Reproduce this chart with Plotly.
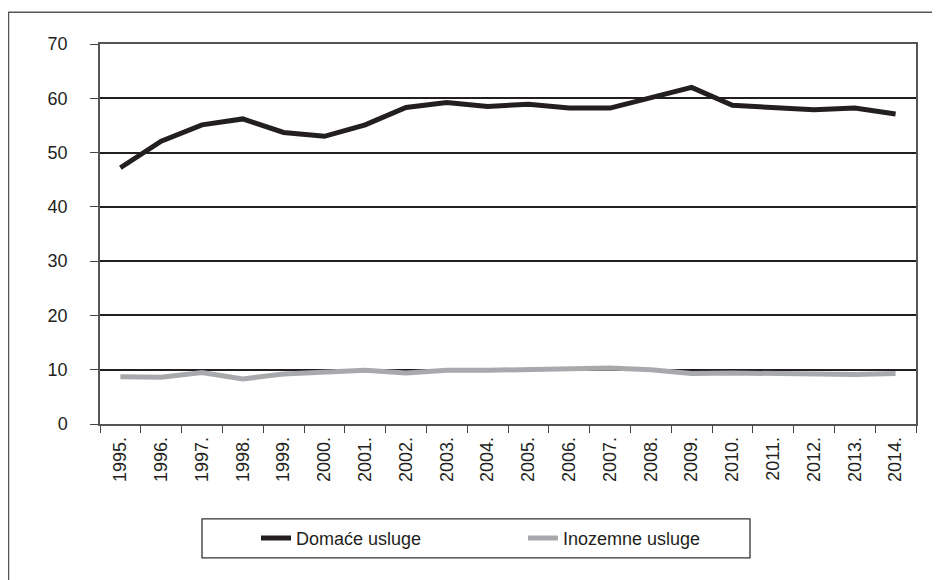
import plotly.graph_objects as go

years = ["1995.", "1996.", "1997.", "1998.", "1999.", "2000.", "2001.", "2002.", "2003.", "2004.",
         "2005.", "2006.", "2007.", "2008.", "2009.", "2010.", "2011.", "2012.", "2013.", "2014."]
domace = [47.2, 52.1, 55.1, 56.2, 53.7, 53.0, 55.1, 58.3, 59.2, 58.5,
          58.9, 58.2, 58.2, 60.0, 62.0, 58.7, 58.2, 57.9, 58.2, 57.1]
inozemne = [8.7, 8.6, 9.5, 8.3, 9.2, 9.5, 9.9, 9.4, 9.9, 9.9,
            10.0, 10.25, 10.3, 10.0, 9.3, 9.4, 9.3, 9.0, 9.1, 9.3]
y_ticks = [0, 10, 20, 30, 40, 50, 60, 70]

ink = "#231f20"
font = "Liberation Sans, Arial, sans-serif"

# page is offset by the default 8px body margin
OFF = 8
W, H = 940 - OFF, 580 - OFF
ml, mr, mt, mb = 100 - OFF, 24, 43.5 - OFF, 156
pw, ph = W - ml - mr, H - mt - mb


def px(page_x):
    return (page_x - OFF - ml) / pw


def py(page_y):
    return (H - mb - (page_y - OFF)) / ph


fig = go.Figure()
fig.add_trace(go.Scatter(x=years, y=domace, mode="lines", name="Domaće usluge",
                         line=dict(color=ink, width=5), legend="legend"))
fig.add_trace(go.Scatter(x=years, y=inozemne, mode="lines", name="Inozemne usluge",
                         line=dict(color="#a7a9ac", width=5), legend="legend2"))

leg_common = dict(orientation="h", yanchor="middle", y=py(538.5), xanchor="left",
                  borderwidth=0, bgcolor="rgba(0,0,0,0)",
                  font=dict(family=font, size=18, color=ink))

fig.update_layout(
    width=W, height=H,
    margin=dict(l=ml, r=mr, t=mt, b=mb, pad=0),
    paper_bgcolor="white", plot_bgcolor="white",
    font=dict(family=font, size=18, color=ink),
    showlegend=True,
    legend=dict(x=px(256), **leg_common),
    legend2=dict(x=px(523), **leg_common),
    xaxis=dict(type="category", range=[-0.5, len(years) - 0.5],
               tickson="boundaries", ticks="outside", ticklen=7,
               tickwidth=1.3, tickcolor="#444444", tickangle=-90,
               showline=True, linecolor="#555555", linewidth=1.5, mirror=True,
               showgrid=False, tickfont=dict(size=18), ticklabelstandoff=4),
    yaxis=dict(range=[0, 70], tickvals=y_ticks, ticks="outside", ticklen=8,
               tickwidth=1.3, tickcolor="#444444",
               showline=True, linecolor="#555555", linewidth=1.5, mirror=True,
               showgrid=True, gridcolor=ink, gridwidth=1.6, zeroline=False,
               tickfont=dict(size=18), ticklabelstandoff=19),
)

# legend box
fig.add_shape(type="rect", xref="paper", yref="paper",
              x0=px(202), x1=px(750), y0=py(558), y1=py(519),
              line=dict(color="#333333", width=1.3), layer="below")

# outer frame (top and left edges visible)
fig.add_shape(type="rect", xref="paper", yref="paper",
              x0=px(8.5), x1=px(980), y0=py(620), y1=py(11.7),
              line=dict(color="#555555", width=1.5), layer="below")

fig.write_html("out.html")
